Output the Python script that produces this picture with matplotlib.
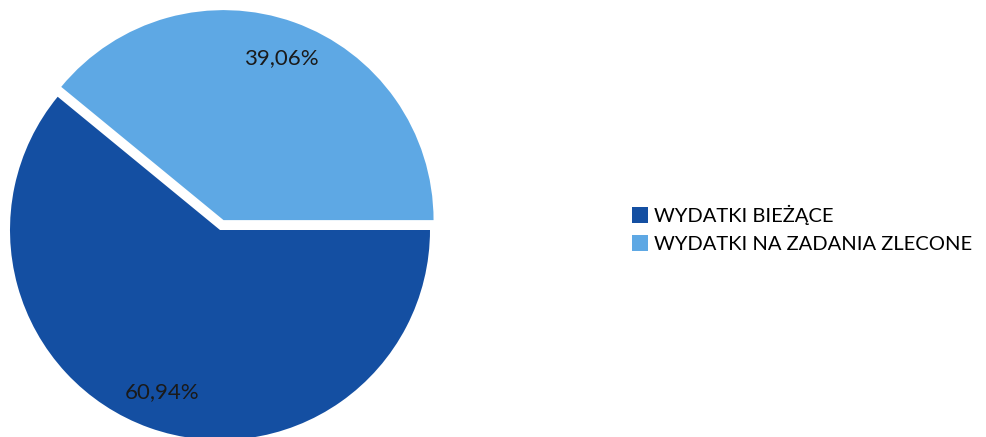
import matplotlib.pyplot as plt

labels = ['WYDATKI BIEŻĄCE', 'WYDATKI NA ZADANIA ZLECONE']
shares = [60.94, 39.06]
colors = ['#144fa2', '#5ea8e4']
explode = [0, 0.05]

plt.rcParams['font.family'] = ['Lato', 'DejaVu Sans']

fig = plt.figure(figsize=(9.87, 4.37), dpi=100)
W, H = 987, 437
# pie axes: centre (220, 230) px from top-left, radius 210 px
ax = fig.add_axes([10 / W, (H - 230 - 210) / H, 420 / W, 420 / H])

wedges, texts, autotexts = ax.pie(
    shares, colors=colors, explode=explode, startangle=0, counterclock=False,
    autopct=lambda p: f'{p:.2f}%'.replace('.', ','), pctdistance=0.82,
    textprops={'fontsize': 16, 'color': '#1a1a1a'},
    wedgeprops={'linewidth': 0})
ax.set_xlim(-1, 1)
ax.set_ylim(-1, 1)
ax.set_aspect('equal')
ax.axis('off')

fig.legend(wedges, labels, loc='center left', bbox_to_anchor=(614 / W, 1 - 229 / H),
           frameon=False, fontsize=14.5, handlelength=0.8, handleheight=0.8,
           handletextpad=0.3, labelspacing=0.5)

fig.savefig('out.png', dpi=100)
